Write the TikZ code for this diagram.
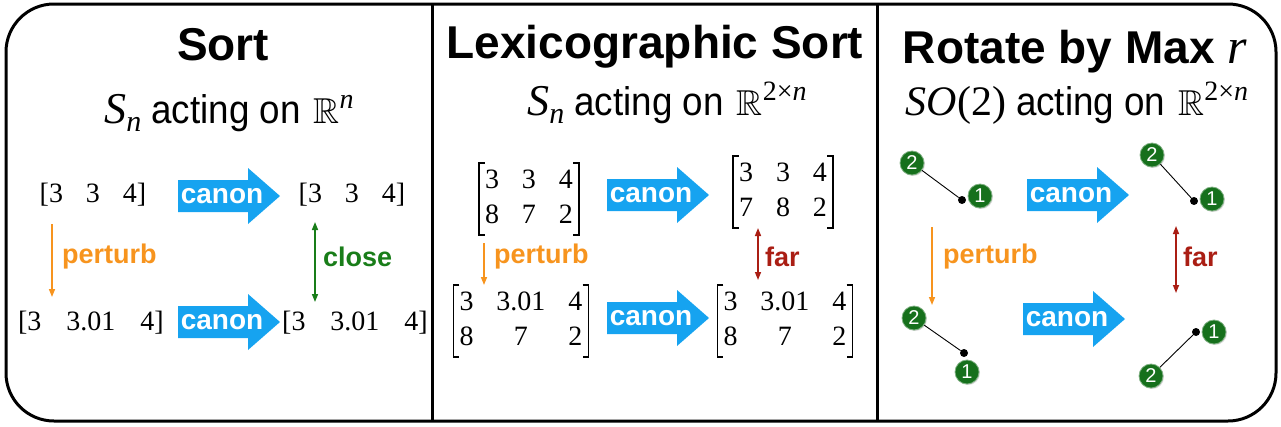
\documentclass[tikz,border=0pt]{standalone}
\usepackage{fontspec}
\setmainfont{Liberation Serif}
\setsansfont{Liberation Sans}
\usepackage{amssymb}
\usepackage{graphicx}
\usetikzlibrary{arrows.meta,shadows}
\definecolor{canonblue}{RGB}{22,163,240}
\definecolor{perturbc}{RGB}{247,148,30}
\definecolor{closec}{RGB}{25,125,25}
\definecolor{farc}{RGB}{170,30,20}
\definecolor{ballc}{RGB}{22,112,28}
\newcommand{\sz}[1]{\fontsize{#1}{#1}\selectfont}
\newcommand{\acting}{\hspace{10pt}\scalebox{0.92}[1]{\sffamily\sz{40}acting on}\hspace{13pt}}
\newcommand{\canonarrow}[3]{%
  \fill[canonblue] (#2,#3) ++(0,-16) -- ++(70,0) -- ++(0,-12) -- ++(32,28) -- ++(-32,28) -- ++(0,-12) -- ++(-70,0) -- cycle;
  \node[canontext] (#1) at (#2+44,#3) {canon};}
\newcommand{\brk}[1]{%
  \draw[brk] ([xshift=6pt]#1.north west) -- (#1.north west) -- (#1.south west) -- ([xshift=6pt]#1.south west);
  \draw[brk] ([xshift=-6pt]#1.north east) -- (#1.north east) -- (#1.south east) -- ([xshift=-6pt]#1.south east);}
\tikzset{
  title/.style={font=\sffamily\bfseries\sz{46}, anchor=base, inner sep=0},
  sub/.style={anchor=base, inner sep=0},
  vec/.style={font=\sz{28}, anchor=center, inner sep=0},
  mat/.style={font=\fontsize{28}{35}\selectfont, inner xsep=6pt, inner ysep=1pt},
  brk/.style={line width=1.5pt},
  canontext/.style={font=\sffamily\bfseries\sz{28}, text=white, inner sep=0},
  lbl/.style={font=\sffamily\bfseries\sz{27}, anchor=west, inner sep=0},
  ball/.style={circle, fill=ballc, draw=ballc!55!white, line width=0.8pt, minimum size=24pt, inner sep=0, text=white, font=\sffamily\sz{20}, drop shadow={opacity=0.3, shadow xshift=1pt, shadow yshift=-1pt}},
  dotn/.style={circle, fill=black, minimum size=8pt, inner sep=0},
  link/.style={line width=0.9pt},
  perturbarrow/.style={perturbc, line width=1.5pt, -{Triangle[length=8pt,width=6pt]}},
  closearrow/.style={closec, line width=1.5pt, {Triangle[length=8pt,width=6pt]}-{Triangle[length=8pt,width=6pt]}},
  fararrow/.style={farc, line width=1.5pt, {Triangle[length=8pt,width=6pt]}-{Triangle[length=8pt,width=6pt]}},
}
\begin{document}
\begin{tikzpicture}[x=1pt,y=-1pt]
\useasboundingbox (0,0) rectangle (1281,426);
% frame
\draw[line width=3pt, rounded corners=48pt] (6,4) rectangle (1276,421);
\draw[line width=3pt] (432,4) -- (432,421);
\draw[line width=3pt] (877,4) -- (877,421);

% ---------------- Panel 1
\node[title] (t1) at (223,60) {Sort};
\node[sub] (s1) at (229,123) {{\itshape\sz{44}S}\raisebox{-8pt}{\itshape\sz{30}n}\acting{\sz{36}$\mathbb{R}$}\raisebox{15pt}{\itshape\sz{28}n}};
\node[vec] (v1) at (93,195) {[3\hspace{23pt}3\hspace{23pt}4]};
\canonarrow{c1}{178}{196}
\node[vec] (v2) at (352,195) {[3\hspace{23pt}3\hspace{23pt}4]};
\node[vec] (v3) at (91,323) {[3\hspace{25pt}3.01\hspace{25pt}4]};
\canonarrow{c2}{178}{322}
\node[vec] (v4) at (355,323) {[3\hspace{25pt}3.01\hspace{25pt}4]};
\coordinate (p1a) at (52,224); \coordinate (p1b) at (52,297);
\draw[perturbarrow] (p1a) -- (p1b);
\node[lbl, text=perturbc] (pl1) at (62,257) {perturb};
\coordinate (cl1a) at (315,222); \coordinate (cl1b) at (315,302);
\draw[closearrow] (cl1a) -- (cl1b);
\node[lbl, text=closec] (cll) at (323,257) {close};

% ---------------- Panel 2
\node[title] (t2) at (655,58) {Lexicographic Sort};
\node[sub] (s2) at (667,115) {{\itshape\sz{44}S}\raisebox{-8pt}{\itshape\sz{30}n}\acting{\sz{36}$\mathbb{R}$}\raisebox{15pt}{\sz{28}2×\itshape n}};
\node[mat] (m1) at (529,199) {\begin{tabular}{@{}c@{\hspace{23pt}}c@{\hspace{23pt}}c@{}}3&3&4\\8&7&2\end{tabular}};
\brk{m1}
\canonarrow{c3}{607}{195}
\node[mat] (m2) at (783,192) {\begin{tabular}{@{}c@{\hspace{23pt}}c@{\hspace{23pt}}c@{}}3&3&4\\7&8&2\end{tabular}};
\brk{m2}
\node[mat] (m3) at (521,321) {\begin{tabular}{@{}c@{\hspace{23pt}}c@{\hspace{23pt}}c@{}}3&3.01&4\\8&7&2\end{tabular}};
\brk{m3}
\canonarrow{c4}{607}{318}
\node[mat] (m4) at (785,321) {\begin{tabular}{@{}c@{\hspace{23pt}}c@{\hspace{23pt}}c@{}}3&3.01&4\\8&7&2\end{tabular}};
\brk{m4}
\coordinate (p2a) at (484,243); \coordinate (p2b) at (484,285);
\draw[perturbarrow] (p2a) -- (p2b);
\node[lbl, text=perturbc] (pl2) at (494,257) {perturb};
\coordinate (f2a) at (758,228); \coordinate (f2b) at (758,280);
\draw[fararrow] (f2a) -- (f2b);
\node[lbl, text=farc] (fl2) at (765,257) {far};

% ---------------- Panel 3
\node[title] (t3) at (1075,63) {Rotate by Max {\rmfamily\mdseries\itshape\sz{50}r}};
\node[sub] (s3) at (1077,115) {{\itshape\sz{42}SO}{\sz{42}(2)}\acting{\sz{36}$\mathbb{R}$}\raisebox{15pt}{\sz{28}2×\itshape n}};
% top-left configuration
\node[dotn] (d1) at (962,200) {};
\node[ball] (a2) at (912,163) {2};
\node[ball] (a1) at (980,196) {1};
\draw[link] (a2) -- (d1);
% top-right
\node[dotn] (d2) at (1194,201) {};
\node[ball] (b2) at (1152,155) {2};
\node[ball] (b1) at (1212,199) {1};
\draw[link] (b2) -- (d2);
% bottom-left
\node[dotn] (d3) at (964,353) {};
\node[ball] (e2) at (914,318) {2};
\node[ball] (e1) at (967,372) {1};
\draw[link] (e2) -- (d3);
% bottom-right
\node[dotn] (d4) at (1196,332) {};
\node[ball] (g1) at (1214,332) {1};
\node[ball] (g2) at (1151,376) {2};
\draw[link] (g2) -- (d4);
\canonarrow{c5}{1027}{195}
\canonarrow{c6}{1023}{319}
\coordinate (p3a) at (932,227); \coordinate (p3b) at (932,305);
\draw[perturbarrow] (p3a) -- (p3b);
\node[lbl, text=perturbc] (pl3) at (943,257) {perturb};
\coordinate (f3a) at (1176,226); \coordinate (f3b) at (1176,293);
\draw[fararrow] (f3a) -- (f3b);
\node[lbl, text=farc] (fl3) at (1183,257) {far};
\end{tikzpicture}
\end{document}
